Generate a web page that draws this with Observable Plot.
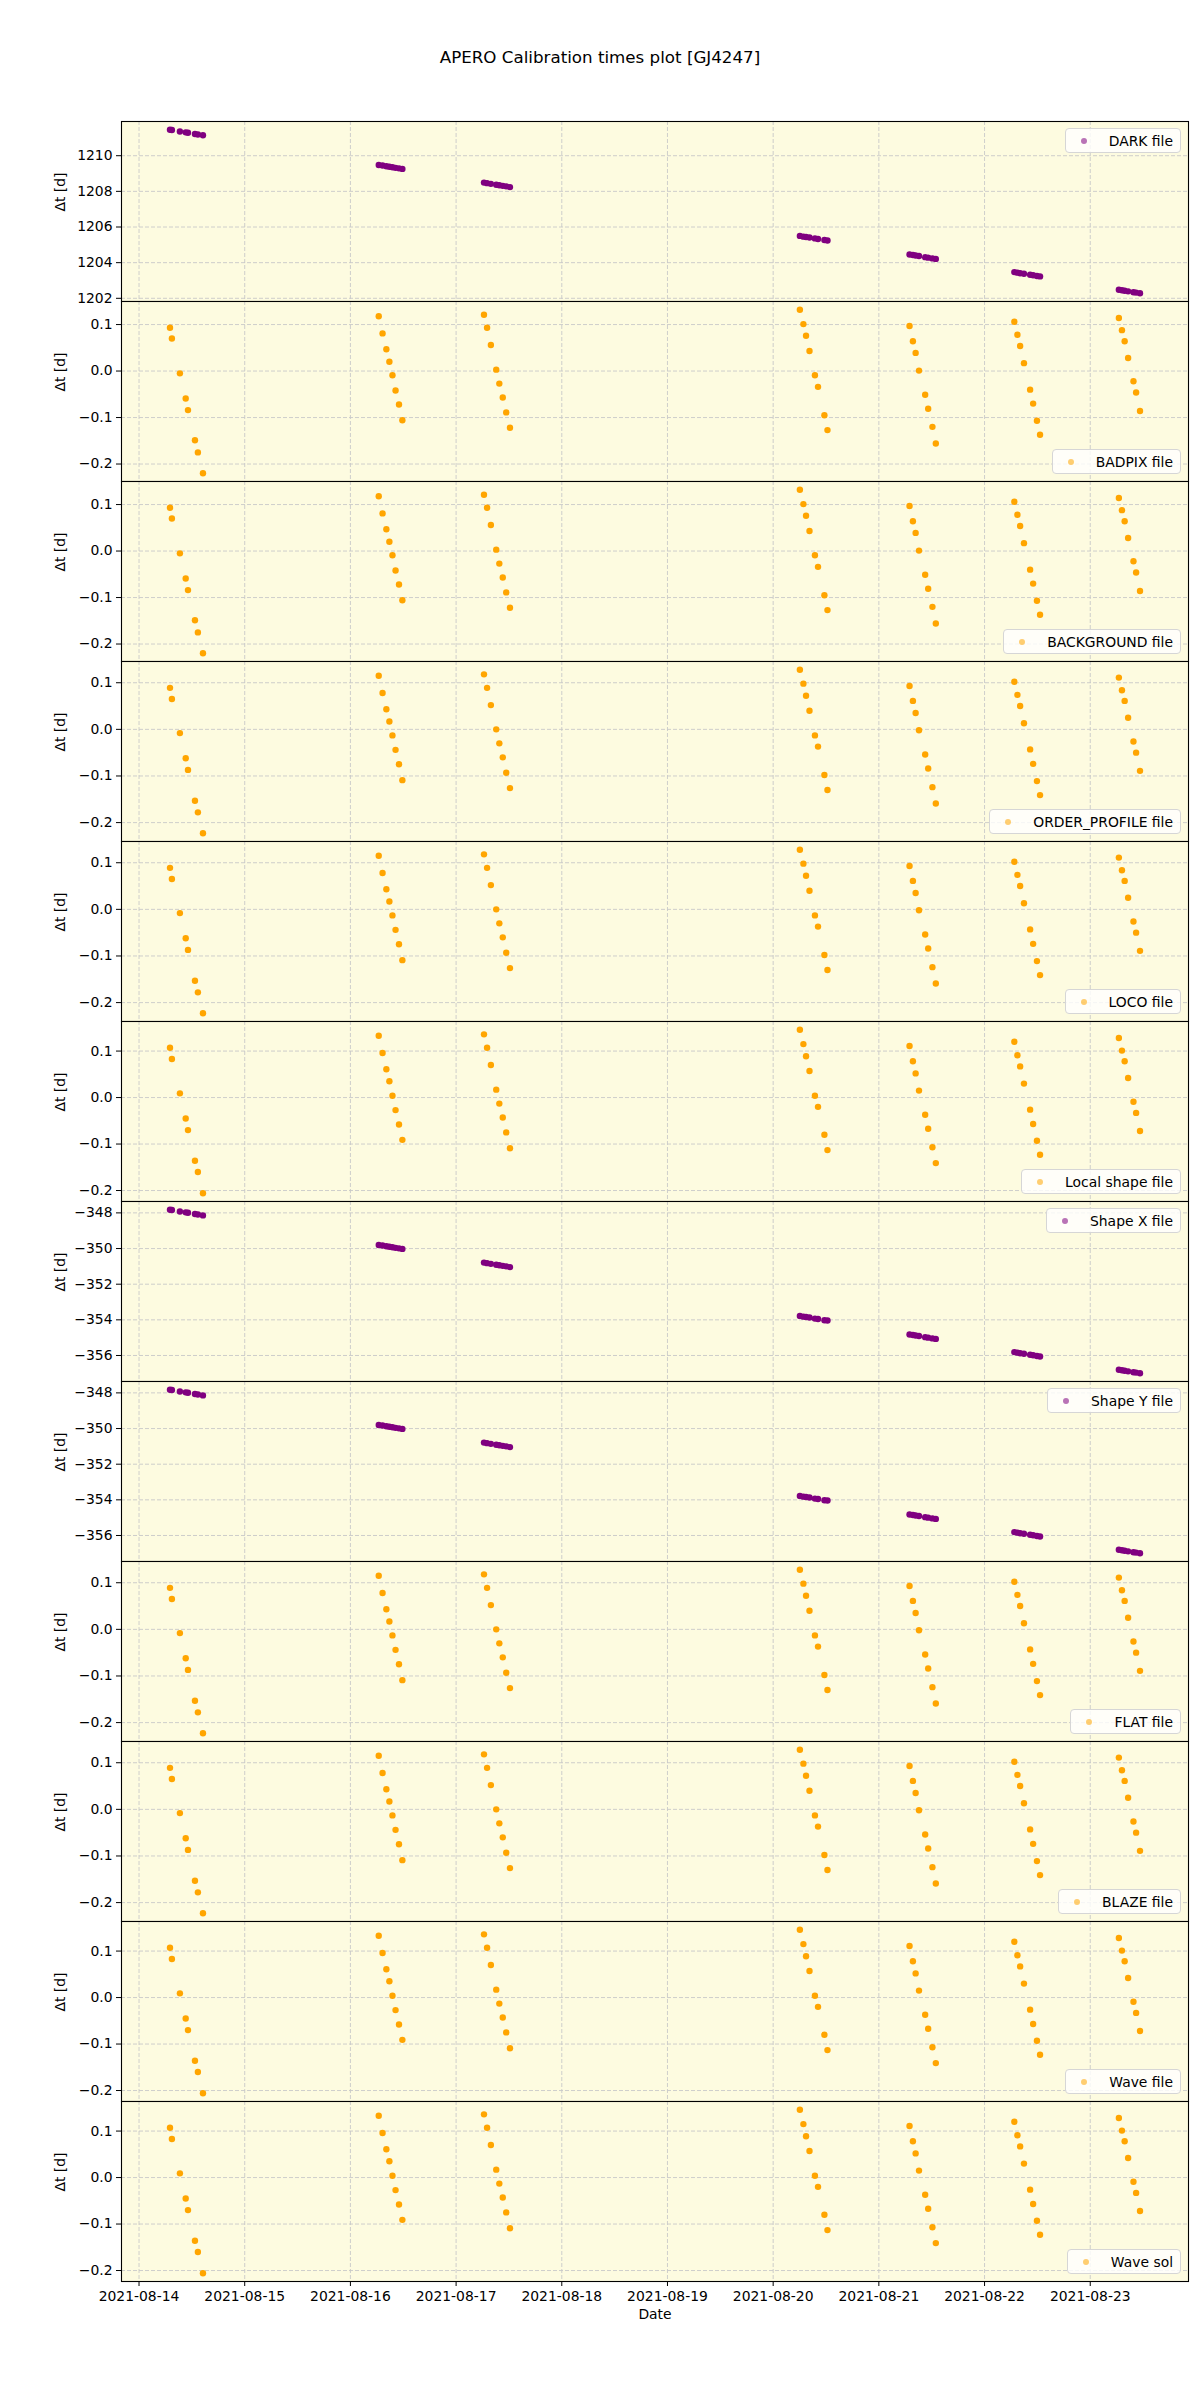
<!DOCTYPE html>
<html>
<head>
<meta charset="utf-8">
<script src="https://cdn.jsdelivr.net/npm/d3@7"></script>
<script src="https://cdn.jsdelivr.net/npm/@observablehq/plot@0.6"></script>
<style>
  body { margin: 0; background: #ffffff; font-family: "DejaVu Sans", sans-serif; color: #000; }
  #wrap { position: relative; width: 1200px; height: 2400px; overflow: hidden; }
  .title { position: absolute; left: 0; width: 1200px; top: 46px; text-align: center; font-size: 16.7px; line-height: 22px; }
  .panel { position: absolute; left: 0; }
  .legend { position: absolute; height: 25px; box-sizing: border-box; border: 1px solid #d6d6d6; border-radius: 4px;
            background: rgba(255,255,255,0.8); display: flex; align-items: center; padding: 0 7px 0 15px;
            font-size: 13.9px; white-space: nowrap; }
  .legend .m { width: 6px; height: 6px; border-radius: 50%; margin-right: 22px; opacity: 0.55; flex: none; }
</style>
</head>
<body>
<div id="wrap"><div class="title">APERO Calibration times plot [GJ4247]</div></div>
<script>
// ---------------- data ----------------
const obsTimes = [
  "2021-08-14T07:02Z","2021-08-14T07:28Z","2021-08-14T09:17Z","2021-08-14T10:36Z","2021-08-14T11:07Z","2021-08-14T12:42Z","2021-08-14T13:22Z","2021-08-14T14:31Z",
  "2021-08-16T06:26Z","2021-08-16T07:18Z","2021-08-16T08:10Z","2021-08-16T08:51Z","2021-08-16T09:33Z","2021-08-16T10:15Z","2021-08-16T11:02Z","2021-08-16T11:48Z",
  "2021-08-17T06:20Z","2021-08-17T07:02Z","2021-08-17T07:54Z","2021-08-17T09:07Z","2021-08-17T09:49Z","2021-08-17T10:36Z","2021-08-17T11:23Z","2021-08-17T12:14Z",
  "2021-08-20T06:04Z","2021-08-20T06:52Z","2021-08-20T07:28Z","2021-08-20T08:15Z","2021-08-20T09:29Z","2021-08-20T10:11Z","2021-08-20T11:38Z","2021-08-20T12:20Z",
  "2021-08-21T06:58Z","2021-08-21T07:44Z","2021-08-21T08:21Z","2021-08-21T09:07Z","2021-08-21T10:31Z","2021-08-21T11:12Z","2021-08-21T12:10Z","2021-08-21T12:56Z",
  "2021-08-22T06:46Z","2021-08-22T07:28Z","2021-08-22T08:05Z","2021-08-22T08:57Z","2021-08-22T10:21Z","2021-08-22T11:02Z","2021-08-22T11:54Z","2021-08-22T12:36Z",
  "2021-08-23T06:30Z","2021-08-23T07:12Z","2021-08-23T07:49Z","2021-08-23T08:36Z","2021-08-23T09:49Z","2021-08-23T10:25Z","2021-08-23T11:18Z"
];

const darkDt = [
  1211.46,1211.44,1211.36,1211.31,1211.29,1211.22,1211.19,1211.15,
  1209.48,1209.45,1209.41,1209.38,1209.35,1209.32,1209.29,1209.26,
  1208.49,1208.46,1208.42,1208.37,1208.34,1208.31,1208.28,1208.24,
  1205.50,1205.46,1205.44,1205.41,1205.36,1205.33,1205.27,1205.24,
  1204.46,1204.43,1204.40,1204.37,1204.31,1204.28,1204.24,1204.21,
  1203.47,1203.44,1203.41,1203.38,1203.32,1203.29,1203.25,1203.23,
  1202.48,1202.45,1202.42,1202.39,1202.34,1202.32,1202.28
];

const badpixDt = [
  0.093,0.070,-0.005,-0.059,-0.084,-0.149,-0.175,-0.220,
  0.118,0.081,0.047,0.020,-0.009,-0.042,-0.072,-0.106,
  0.121,0.093,0.056,0.003,-0.027,-0.057,-0.089,-0.122,
  0.132,0.101,0.076,0.043,-0.009,-0.034,-0.095,-0.127,
  0.097,0.064,0.039,0.001,-0.051,-0.081,-0.120,-0.156,
  0.106,0.078,0.054,0.017,-0.040,-0.070,-0.107,-0.137,
  0.114,0.088,0.064,0.028,-0.022,-0.046,-0.086
];

const orderProfileDt = [
  0.089,0.065,-0.008,-0.062,-0.087,-0.153,-0.178,-0.223,
  0.115,0.078,0.043,0.017,-0.013,-0.044,-0.075,-0.109,
  0.118,0.089,0.052,0.000,-0.030,-0.060,-0.093,-0.126,
  0.128,0.098,0.072,0.040,-0.013,-0.037,-0.098,-0.130,
  0.093,0.061,0.035,-0.002,-0.054,-0.084,-0.124,-0.159,
  0.102,0.074,0.050,0.013,-0.043,-0.074,-0.111,-0.141,
  0.111,0.084,0.061,0.025,-0.026,-0.050,-0.089
];

const localShapeDt = [
  0.107,0.083,0.009,-0.045,-0.070,-0.136,-0.160,-0.206,
  0.133,0.096,0.061,0.035,0.004,-0.027,-0.058,-0.091,
  0.136,0.107,0.070,0.017,-0.013,-0.043,-0.075,-0.109,
  0.146,0.115,0.089,0.057,0.004,-0.020,-0.080,-0.113,
  0.111,0.078,0.052,0.015,-0.037,-0.067,-0.107,-0.141,
  0.120,0.091,0.067,0.030,-0.026,-0.057,-0.093,-0.123,
  0.128,0.101,0.078,0.042,-0.009,-0.033,-0.072
];

const shapeDt = [
  -347.82,-347.84,-347.92,-347.97,-347.99,-348.06,-348.09,-348.14,
  -349.80,-349.83,-349.87,-349.90,-349.93,-349.96,-349.99,-350.02,
  -350.79,-350.82,-350.86,-350.91,-350.94,-350.97,-351.00,-351.04,
  -353.78,-353.82,-353.84,-353.87,-353.93,-353.95,-354.02,-354.04,
  -354.82,-354.85,-354.88,-354.91,-354.97,-355.00,-355.04,-355.07,
  -355.81,-355.84,-355.87,-355.90,-355.96,-355.99,-356.03,-356.06,
  -356.80,-356.83,-356.86,-356.89,-356.94,-356.96,-357.00
];

const panelLabels  = ["DARK file","BADPIX file","BACKGROUND file","ORDER_PROFILE file","LOCO file","Local shape file",
                      "Shape X file","Shape Y file","FLAT file","BLAZE file","Wave file","Wave sol"];
const panelSeries  = [darkDt, badpixDt, badpixDt, orderProfileDt, orderProfileDt, localShapeDt,
                      shapeDt, shapeDt, orderProfileDt, orderProfileDt, localShapeDt, localShapeDt];
const panelColors  = ["purple","orange","orange","orange","orange","orange","purple","purple","orange","orange","orange","orange"];
const legendCorner = ["top","bottom","bottom","bottom","bottom","bottom","top","top","bottom","bottom","bottom","bottom"];

const darkTicks  = [1202, 1204, 1206, 1208, 1210];
const smallTicks = [-0.2, -0.1, 0.0, 0.1];
const shapeTicks = [-356, -354, -352, -350, -348];
const panelTicks = [darkTicks, smallTicks, smallTicks, smallTicks, smallTicks, smallTicks,
                    shapeTicks, shapeTicks, smallTicks, smallTicks, smallTicks, smallTicks];
const panelFormats = ["d",".1f",".1f",".1f",".1f",".1f","d","d",".1f",".1f",".1f",".1f"];

const xTicks = ["2021-08-14","2021-08-15","2021-08-16","2021-08-17","2021-08-18",
                "2021-08-19","2021-08-20","2021-08-21","2021-08-22","2021-08-23"];

// ---------------- layout ----------------
const FRAME_TOP = 121, PANEL_H = 180, M_LEFT = 121, M_RIGHT = 12, PAD = 12;
const BG = "#fdfbe0", GRID = "#c8c8c8";
const wrap = document.getElementById("wrap");

const dates = obsTimes.map(s => new Date(s));
const xExt = d3.extent(dates);
const xPad = (xExt[1] - xExt[0]) * 0.05;
const xDomain = [new Date(+xExt[0] - xPad), new Date(+xExt[1] + xPad)];
const xTickDates = xTicks.map(s => new Date(s + "T00:00Z"));

panelLabels.forEach((label, k) => {
  const last = k === panelLabels.length - 1;
  const vals = panelSeries[k];
  const [lo, hi] = d3.extent(vals);
  const yp = (hi - lo) * 0.05;
  const data = dates.map((d, i) => ({date: d, dt: vals[i]}));
  const mb = last ? 60 : PAD;
  const fmt = d3.format(panelFormats[k]);
  const marks = [
    Plot.frame({fill: BG, stroke: "none"}),
    Plot.gridX(xTickDates, {stroke: GRID, strokeOpacity: 1, strokeWidth: 0.9, strokeDasharray: "4,2"}),
    Plot.gridY(panelTicks[k], {stroke: GRID, strokeOpacity: 1, strokeWidth: 0.9, strokeDasharray: "4,2"}),
    Plot.dot(data, {x: "date", y: "dt", r: 3.2, fill: panelColors[k], stroke: "none"}),
    Plot.axisY(panelTicks[k], {tickFormat: fmt, tickSize: 5, tickPadding: 4, label: null}),
    Plot.text(["Δt [d]"], {text: d => d, frameAnchor: "left", dx: -61, rotate: -90}),
    Plot.frame({stroke: "black", strokeWidth: 1.1})
  ];
  if (last) {
    marks.push(Plot.axisX(xTickDates, {tickFormat: d3.utcFormat("%Y-%m-%d"), tickSize: 5, tickPadding: 5, label: null}));
    marks.push(Plot.text(["Date"], {text: d => d, frameAnchor: "bottom", dy: 37}));
  } else {
    marks.push(Plot.axisX({ticks: [], label: null}));
  }
  const chart = Plot.plot({
    width: 1200,
    height: PANEL_H + PAD + mb,
    marginLeft: M_LEFT, marginRight: M_RIGHT, marginTop: PAD, marginBottom: mb,
    style: {fontFamily: "DejaVu Sans", fontSize: "13.9px", color: "black", background: "transparent", overflow: "visible"},
    x: {type: "utc", domain: xDomain},
    y: {domain: [lo - yp, hi + yp]},
    marks
  });
  chart.classList.add("panel");
  chart.style.top = (FRAME_TOP + PANEL_H * k - PAD) + "px";
  wrap.appendChild(chart);

  const lg = document.createElement("div");
  lg.className = "legend";
  lg.style.right = "19px";
  lg.style.top = (legendCorner[k] === "top"
    ? FRAME_TOP + PANEL_H * k + 7
    : FRAME_TOP + PANEL_H * (k + 1) - 7 - 25) + "px";
  const m = document.createElement("span");
  m.className = "m";
  m.style.background = panelColors[k];
  const t = document.createElement("span");
  t.textContent = label;
  lg.appendChild(m); lg.appendChild(t);
  wrap.appendChild(lg);
});
</script>
</body>
</html>
